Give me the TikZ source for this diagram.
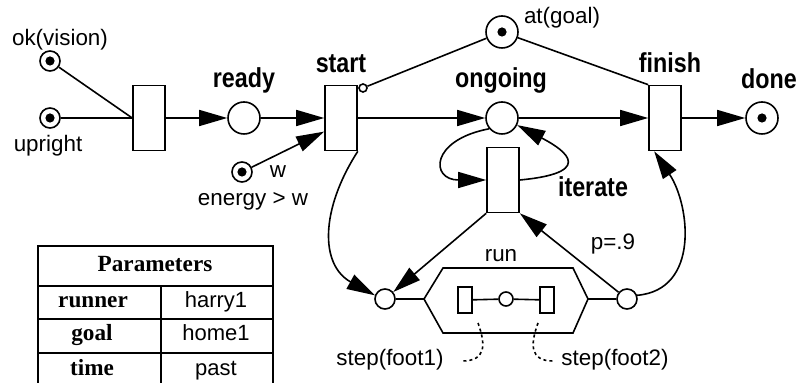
\documentclass[tikz,border=0pt]{standalone}
\usepackage{fontspec}
\setmainfont{Liberation Sans}
\newfontfamily\condbold{Liberation Sans Bold}[FakeStretch=0.85]
\newfontfamily\tabserif{Liberation Serif}
\usetikzlibrary{arrows.meta,positioning}
\tikzstyle{line} = [line width=0.8pt]
\tikzstyle{arrow} = [line width=0.8pt,-{Triangle[length=14pt,width=8pt]}]
\tikzstyle{place} = [circle, draw, line width=0.8pt, minimum size=16pt, inner sep=0pt]
\tikzstyle{smallplace} = [place, minimum size=10pt]
\tikzstyle{token} = [path picture={\fill (path picture bounding box.center) circle (2.3pt);}]
\tikzstyle{trans} = [rectangle, draw, line width=0.8pt, minimum width=16pt, minimum height=32.5pt, inner sep=0pt]
\tikzstyle{boldlabel} = [font=\condbold\fontsize{13.7}{15}\selectfont, inner sep=0pt, anchor=base]
\tikzstyle{plainlabel} = [font=\fontsize{11.2}{13}\selectfont, inner sep=0pt, anchor=base]
\tikzstyle{cellhead} = [font=\tabserif\bfseries\fontsize{11.6}{13}\selectfont, inner sep=0pt, anchor=base]
\tikzstyle{cellval} = [font=\fontsize{11}{13}\selectfont, inner sep=0pt, anchor=base]

\begin{document}
\begin{tikzpicture}[x=0.5pt, y=-0.5pt]
\useasboundingbox (0,0) rectangle (796,383);
% Main net
\node[smallplace, token] (okvision) at (50,61) {};
\node[smallplace, token] (upright) at (50,118) {};
\node[trans] (prep) at (149,118) {};
\node[place] (ready) at (244,118) {};
\node[trans] (start) at (341,118) {};
\node[circle, draw, line width=0.8pt, minimum size=4pt, inner sep=0pt] (startc) at (363,88) {};
\node[smallplace, token] (energy) at (242,172) {};
\node[place, token] (atgoal) at (502,32) {};
\node[place] (ongoing) at (502,118) {};
\node[trans] (iterate) at (503,180) {};
\node[trans] (finish) at (665,118) {};
\node[place, token] (done) at (762,118) {};

% Run subnet
\node[smallplace] (stepin) at (385,299) {};
\node[smallplace] (stepout) at (627,299) {};
\coordinate (runL) at (424,299);
\coordinate (runR) at (588,299);
\node[rectangle, draw, line width=0.8pt, minimum width=7pt, minimum height=13pt, inner sep=0pt] (foot1) at (465,300) {};
\node[circle, draw, line width=0.8pt, minimum size=7pt, inner sep=0pt] (mid) at (506,299) {};
\node[rectangle, draw, line width=0.8pt, minimum width=7pt, minimum height=13pt, inner sep=0pt] (foot2) at (547,300) {};
\coordinate (dot1) at (478,323);
\coordinate (dot2) at (538,323);

\draw[line] (okvision) -- (prep.west);
\draw[line] (upright) -- (prep.west);
\draw[arrow] (prep) -- (ready);
\draw[arrow] (ready) -- (start);
\draw[arrow] (energy) -- (start.219);
\draw[line] (startc) -- (atgoal);
\draw[line] (atgoal) -- (finish.north west);
\draw[arrow] (start) -- (ongoing);
\draw[arrow] (ongoing) -- (finish);
\draw[arrow] (finish) -- (done);
\draw[arrow] (ongoing.220) .. controls (430,140) and (430,180) .. (iterate.west);
\draw[arrow] (iterate.east) .. controls (605,172) and (555,145) .. (ongoing.-25);
\draw[arrow] (start.south east) .. controls (320,210) and (320,265) .. (stepin.160);
\draw[arrow] (iterate.south west) -- (stepin);
\draw[arrow] (stepout) -- (iterate.south east);
\draw[arrow] (stepout.20) .. controls (700,290) and (690,205) .. (finish.252);

\draw[line] (stepin) -- (runL);
\draw[line] (runR) -- (stepout);
\draw[line] (runL) -- (443,268) -- (573,268) -- (runR) -- (573,333) -- (443,333) -- cycle;
\draw[line] (foot1) -- (mid) -- (foot2);
\draw[line, dash pattern=on 1.5pt off 1.5pt] (dot1) .. controls (486,345) and (486,361) .. (462,361);
\draw[line, dash pattern=on 1.5pt off 1.5pt] (dot2) .. controls (530,345) and (530,361) .. (553,361);

% Labels
\node[plainlabel] (lokvision) at (60,46) {ok(vision)};
\node[plainlabel] (lupright) at (48,152) {upright};
\node[boldlabel] (lready) at (244,88) {ready};
\node[boldlabel] (lstart) at (341,73) {start};
\node[plainlabel] (lw) at (278,178) {w};
\node[plainlabel] (lenergy) at (253,206) {energy > w};
\node[plainlabel] (latgoal) at (562,24) {at(goal)};
\node[boldlabel] (longoing) at (501,88) {ongoing};
\node[boldlabel] (lfinish) at (670,73) {finish};
\node[boldlabel] (ldone) at (769,89) {done};
\node[boldlabel] (literate) at (593,197) {iterate};
\node[plainlabel] (lrun) at (501,262) {run};
\node[plainlabel] (lp) at (613,250) {p=.9};
\node[plainlabel] (lfoot1) at (390,366) {step(foot1)};
\node[plainlabel] (lfoot2) at (615,366) {step(foot2)};

% Parameter table
\draw[line] (38,246) rectangle (273,395);
\draw[line] (38,286) -- (273,286);
\draw[line] (38,319) -- (273,319);
\draw[line] (38,353) -- (273,353);
\draw[line] (161,286) -- (161,395);
\node[cellhead] (thead) at (155,272) {Parameters};
\node[cellhead] (trunner) at (93,308) {runner};
\node[cellval] (tharry) at (216,308) {harry1};
\node[cellhead] (tgoal) at (92,341) {goal};
\node[cellval] (thome) at (216,341) {home1};
\node[cellhead] (ttime) at (92,376) {time};
\node[cellval] (tpast) at (216,376) {past};
\end{tikzpicture}
\end{document}
